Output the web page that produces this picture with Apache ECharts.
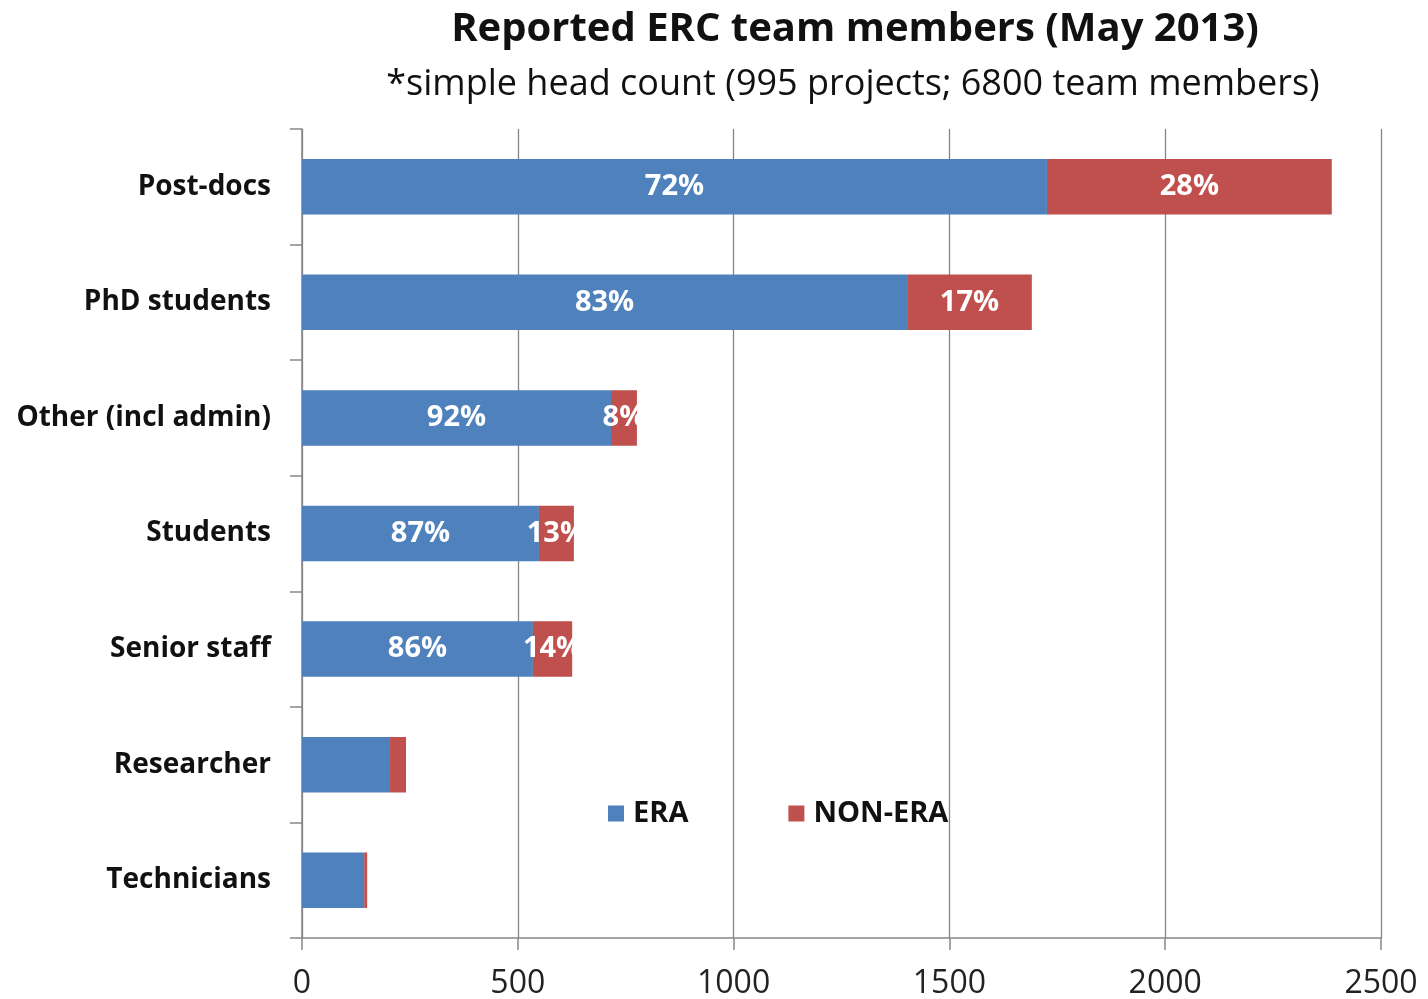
<!DOCTYPE html>
<html>
<head>
<meta charset="utf-8">
<script src="https://cdn.jsdelivr.net/npm/echarts@6/dist/echarts.min.js"></script>
<style>html,body{margin:0;padding:0;background:#fff}#c{width:1428px;height:999px}</style>
</head>
<body>
<div id="c"></div>
<script>
const categories = ['Post-docs', 'PhD students', 'Other (incl admin)', 'Students', 'Senior staff', 'Researcher', 'Technicians'];
const eraValues = [1726, 1402, 716, 549, 535, 204, 144];
const nonEraValues = [660, 289, 60, 81, 91, 37, 7];
const eraPct = ['72%', '83%', '92%', '87%', '86%', '', ''];
const nonEraPct = ['28%', '17%', '8%', '13%', '14%', '', ''];
const xTicks = [0, 500, 1000, 1500, 2000, 2500];

const FONT = '"Open Sans", Lato, sans-serif';
const chart = echarts.init(document.getElementById('c'), null, {renderer: 'canvas'});
chart.setOption({
  backgroundColor: '#fff',
  animation: false,
  title: [
    {text: 'Reported ERC team members (May 2013)', left: 850, top: 5, textAlign: 'center',
     textStyle: {fontFamily: FONT, fontSize: 40, fontWeight: 'bold', color: '#111'}},
    {text: '*simple head count (995 projects; 6800 team members)', left: 848, top: 62, textAlign: 'center',
     textStyle: {fontFamily: FONT, fontSize: 36, fontWeight: 'normal', color: '#111'}}
  ],
  legend: {
    left: 603, top: 794, itemWidth: 16, itemHeight: 16, itemGap: 100, icon: 'rect',
    textStyle: {fontFamily: FONT, fontSize: 29, fontWeight: 'bold', color: '#111', padding: [0, 0, 0, 4]},
    data: ['ERA', 'NON-ERA']
  },
  grid: {left: 302, right: 47, top: 129, bottom: 61, containLabel: false, outerBoundsMode: 'none'},
  xAxis: {
    type: 'value', min: xTicks[0], max: xTicks[xTicks.length - 1], interval: 500,
    axisLine: {show: true, lineStyle: {color: '#868686', width: 1.5}},
    axisTick: {show: true, length: 12, lineStyle: {color: '#868686', width: 1.5}},
    splitLine: {show: true, lineStyle: {color: '#868686', width: 1.3}},
    axisLabel: {fontFamily: FONT, fontSize: 32, color: '#222', margin: 30, formatter: v => String(v)}
  },
  yAxis: {
    type: 'category', data: categories, inverse: true,
    axisLine: {show: true, lineStyle: {color: '#868686', width: 1.5}},
    axisTick: {show: true, length: 12, lineStyle: {color: '#868686', width: 1.5}},
    axisLabel: {fontFamily: FONT, fontSize: 28, fontWeight: 'bold', color: '#111', margin: 31}
  },
  series: [
    {name: 'ERA', type: 'bar', stack: 'a', data: eraValues, barCategoryGap: '52%',
     itemStyle: {color: '#4F81BD'},
     label: {show: true, position: 'inside', fontFamily: FONT, fontSize: 29, fontWeight: 'bold', color: '#fff',
             formatter: p => eraPct[p.dataIndex]}},
    {name: 'NON-ERA', type: 'bar', stack: 'a', data: nonEraValues, barCategoryGap: '52%',
     itemStyle: {color: '#C0504D'},
     label: {show: true, position: 'inside', fontFamily: FONT, fontSize: 29, fontWeight: 'bold', color: '#fff',
             formatter: p => nonEraPct[p.dataIndex]}}
  ]
});
</script>
</body>
</html>
